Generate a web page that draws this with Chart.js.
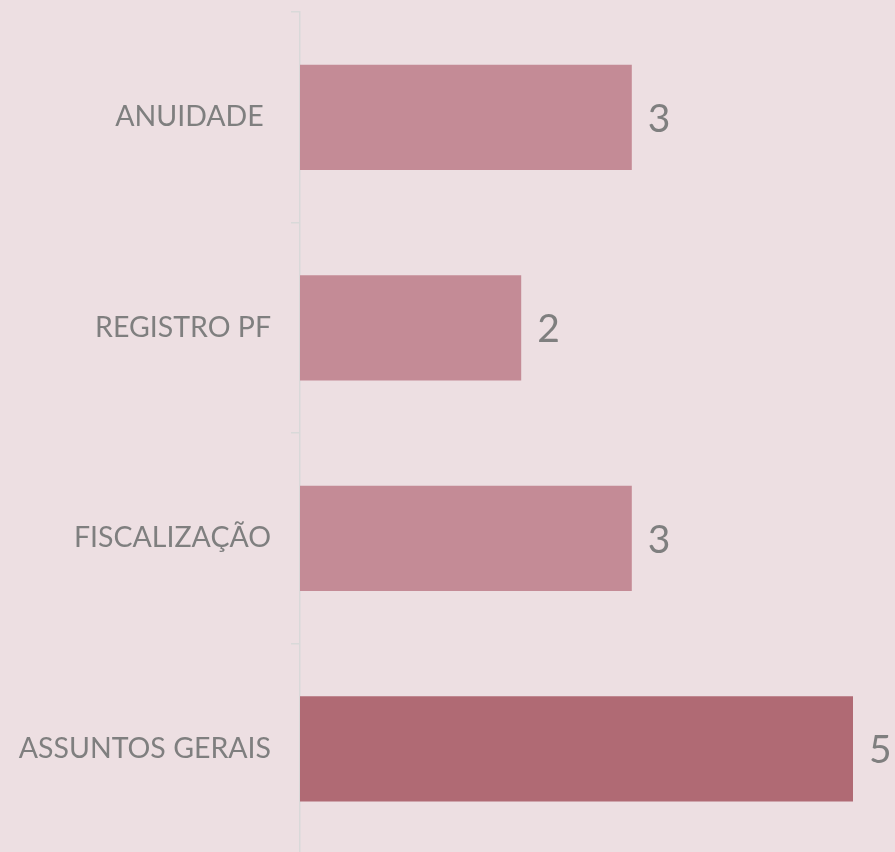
<!DOCTYPE html>
<html>
<head>
<meta charset="utf-8">
<script src="https://cdn.jsdelivr.net/npm/chart.js@4"></script>
<style>
  html, body { margin: 0; padding: 0; background: #EDDFE2; overflow: hidden; }
  #wrap { position: relative; width: 895px; height: 854px; }
</style>
</head>
<body>
<div id="wrap"><canvas id="chart"></canvas></div>
<script>
const categories = ['ANUIDADE ', 'REGISTRO PF', 'FISCALIZAÇÃO', 'ASSUNTOS GERAIS'];
const values = [3, 2, 3, 5];
const barColors = ['#C48B96', '#C48B96', '#C48B96', '#B06A74'];

const FONT = "Lato, 'Open Sans', sans-serif";
const TEXT_GRAY = '#7F7F7F';

// draws the value to the right of each bar
const valueLabels = {
    id: 'valueLabels',
    afterDatasetsDraw(chart) {
        const ctx = chart.ctx;
        const meta = chart.getDatasetMeta(0);
        ctx.save();
        ctx.fillStyle = TEXT_GRAY;
        ctx.font = `39px ${FONT}`;
        ctx.textAlign = 'left';
        ctx.textBaseline = 'middle';
        meta.data.forEach((bar, i) => {
            ctx.fillText(String(values[i]), bar.x + 16, bar.y + 2);
        });
        ctx.restore();
    }
};

new Chart(document.getElementById('chart'), {
    type: 'bar',
    data: {
        labels: categories,
        datasets: [{
            data: values,
            backgroundColor: barColors,
            borderWidth: 0,
            categoryPercentage: 1,
            barPercentage: 0.5
        }]
    },
    options: {
        indexAxis: 'y',
        responsive: true,
        maintainAspectRatio: false,
        animation: false,
        layout: { padding: { top: 12, right: 42, bottom: 0, left: 0 } },
        plugins: {
            legend: { display: false },
            tooltip: { enabled: false }
        },
        scales: {
            x: {
                display: false,
                min: 0,
                max: 5
            },
            y: {
                position: 'left',
                offset: true,
                afterFit(scale) {
                    scale.width = 300;
                    scale.paddingTop = 0;
                    scale.paddingBottom = 0;
                },
                border: { display: true, color: '#D9D9D9', width: 1.5 },
                grid: {
                    drawOnChartArea: false,
                    drawTicks: true,
                    tickLength: 9,
                    color: '#D9D9D9',
                    lineWidth: 1.5
                },
                ticks: {
                    padding: 20,
                    color: TEXT_GRAY,
                    font: { family: FONT, size: 28.5 }
                }
            }
        }
    },
    plugins: [valueLabels]
});
</script>
</body>
</html>
